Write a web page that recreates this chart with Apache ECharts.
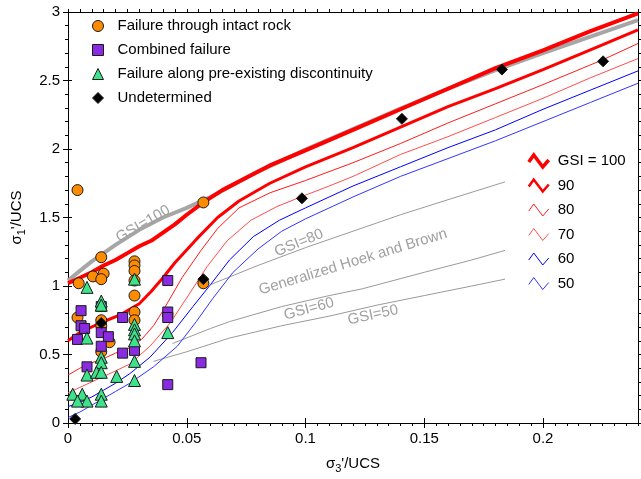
<!DOCTYPE html>
<html lang="en">
<head>
<meta charset="UTF-8">
<title>sigma1'/UCS vs sigma3'/UCS</title>
<script src="https://cdn.jsdelivr.net/npm/echarts@6.0.0/dist/echarts.min.js"></script>
<style>
  html, body { margin: 0; padding: 0; background: #fff; }
  #chart { width: 641px; height: 479px; }
</style>
</head>
<body>
<div id="chart"></div>
<script>
// test points [sigma3'/UCS, sigma1'/UCS]
const intactRock = [
  [0.004, 1.70], [0.004, 0.77], [0.0045, 1.02], [0.0105, 1.07], [0.014, 1.21],
  [0.015, 1.09], [0.014, 1.05], [0.028, 1.18], [0.028, 1.15], [0.028, 1.11],
  [0.028, 1.04], [0.028, 0.93], [0.028, 0.81], [0.028, 0.75], [0.014, 0.75],
  [0.014, 0.71], [0.0175, 0.59], [0.014, 0.52], [0.057, 1.61], [0.057, 1.02]
];
const combined = [
  [0.0055, 0.82], [0.0055, 0.71], [0.007, 0.69], [0.004, 0.61], [0.014, 0.85],
  [0.014, 0.66], [0.017, 0.63], [0.014, 0.56], [0.008, 0.41], [0.023, 0.51],
  [0.023, 0.77], [0.028, 0.53], [0.042, 1.04], [0.042, 0.81], [0.042, 0.77],
  [0.042, 0.28], [0.056, 0.44]
];
const discontinuity = [
  [0.008, 0.99], [0.014, 0.89], [0.014, 0.86], [0.028, 1.05], [0.008, 0.62],
  [0.028, 0.72], [0.028, 0.68], [0.028, 0.65], [0.028, 0.60], [0.014, 0.48],
  [0.014, 0.44], [0.008, 0.35], [0.012, 0.37], [0.014, 0.37], [0.0205, 0.34],
  [0.028, 0.45], [0.028, 0.31], [0.042, 0.66], [0.002, 0.21], [0.006, 0.21],
  [0.008, 0.16], [0.004, 0.16], [0.014, 0.21], [0.014, 0.16]
];
const undetermined = [
  [0.003, 0.03], [0.014, 0.73], [0.057, 1.05], [0.0985, 1.64],
  [0.1406, 2.22], [0.1827, 2.58], [0.2253, 2.64]
];

// numerical envelopes
const gsi100 = [
  [0, 1.02], [0.005, 1.06], [0.01, 1.10], [0.015, 1.15], [0.02, 1.19], [0.025, 1.24],
  [0.03, 1.29], [0.035, 1.33], [0.04, 1.39], [0.045, 1.45], [0.05, 1.52], [0.057, 1.61],
  [0.065, 1.70], [0.075, 1.79], [0.085, 1.88], [0.1, 1.99], [0.12, 2.14], [0.14, 2.29],
  [0.16, 2.44], [0.18, 2.59], [0.2, 2.72], [0.22, 2.86], [0.24, 2.99]
];
const gsi90 = [
  [0, 0.60], [0.005, 0.66], [0.0135, 0.73], [0.022, 0.79], [0.026, 0.83], [0.03, 0.87],
  [0.035, 0.96], [0.04, 1.06], [0.045, 1.17], [0.054, 1.34], [0.063, 1.50], [0.072, 1.62],
  [0.085, 1.75], [0.1, 1.87], [0.12, 2.01], [0.14, 2.16], [0.16, 2.31], [0.18, 2.44],
  [0.2, 2.58], [0.225, 2.76], [0.24, 2.87]
];
const gsi80 = [
  [0, 0.35], [0.005, 0.40], [0.01, 0.44], [0.015, 0.47], [0.02, 0.51], [0.026, 0.55],
  [0.031, 0.61], [0.036, 0.71], [0.04, 0.82], [0.048, 1.06], [0.056, 1.26], [0.063, 1.42],
  [0.072, 1.57], [0.085, 1.68], [0.1, 1.77], [0.12, 1.90], [0.14, 2.04], [0.16, 2.19],
  [0.18, 2.33], [0.2, 2.47], [0.225, 2.65], [0.24, 2.77]
];
const gsi70 = [
  [0, 0.22], [0.005, 0.26], [0.01, 0.30], [0.015, 0.34], [0.02, 0.38], [0.026, 0.43],
  [0.0345, 0.56], [0.043, 0.73], [0.051, 0.94], [0.0585, 1.14], [0.067, 1.33], [0.077, 1.48],
  [0.088, 1.58], [0.098, 1.65], [0.11, 1.73], [0.12, 1.80], [0.14, 1.96], [0.16, 2.09],
  [0.18, 2.23], [0.2, 2.37], [0.22, 2.52], [0.24, 2.66]
];
const gsi60 = [
  [0, 0.12], [0.005, 0.15], [0.01, 0.19], [0.015, 0.24], [0.02, 0.29], [0.026, 0.36],
  [0.0345, 0.48], [0.044, 0.66], [0.0526, 0.85], [0.06, 1.01], [0.068, 1.19], [0.078, 1.36],
  [0.089, 1.48], [0.1, 1.57], [0.12, 1.73], [0.14, 1.87], [0.16, 2.01], [0.18, 2.14],
  [0.2, 2.29], [0.22, 2.43], [0.24, 2.57]
];
const gsi50 = [
  [0, 0.04], [0.005, 0.08], [0.01, 0.13], [0.015, 0.18], [0.02, 0.23], [0.026, 0.29],
  [0.036, 0.41], [0.046, 0.56], [0.054, 0.74], [0.061, 0.91], [0.0695, 1.10], [0.08, 1.27],
  [0.09, 1.40], [0.1, 1.49], [0.12, 1.65], [0.14, 1.80], [0.16, 1.93], [0.18, 2.06],
  [0.2, 2.20], [0.22, 2.34], [0.24, 2.48]
];

// generalized Hoek and Brown
const hb100 = [
  [0, 1.04], [0.005, 1.11], [0.01, 1.18], [0.015, 1.24], [0.02, 1.30], [0.03, 1.41],
  [0.04, 1.50], [0.05, 1.57], [0.06, 1.65], [0.08, 1.835], [0.1, 1.995], [0.12, 2.145],
  [0.14, 2.295], [0.16, 2.44], [0.18, 2.575], [0.2, 2.70], [0.22, 2.82], [0.24, 2.94]
];
const hb80 = [
  [0.06, 1.01], [0.07, 1.08], [0.08, 1.15], [0.1, 1.28], [0.12, 1.40],
  [0.14, 1.52], [0.16, 1.63], [0.184, 1.76]
];
const hb60 = [
  [0.044, 0.58], [0.06, 0.69], [0.068, 0.74], [0.09, 0.85], [0.11, 0.93],
  [0.124, 0.98], [0.15, 1.10], [0.17, 1.19], [0.184, 1.26]
];
const hb50 = [
  [0.036, 0.45], [0.05, 0.52], [0.068, 0.62], [0.09, 0.71], [0.11, 0.78],
  [0.13, 0.86], [0.15, 0.93], [0.17, 1.00], [0.184, 1.05]
];

const pointNames = ['Failure through intact rock', 'Combined failure',
  'Failure along pre-existing discontinuity', 'Undetermined'];
const gsiNames = ['GSI = 100', '90', '80', '70', '60', '50'];
const xRange = [0, 0.24];
const yRange = [0, 3];

const FONT = 'Liberation Sans, Arial, sans-serif';
const zig = 'path://M0,7L5,0L14,12L20,5';

function xAx(pos, interval, opts) {
  return Object.assign({
    type: 'value', position: pos, min: xRange[0], max: xRange[1], interval: interval,
    axisLine: { show: false }, axisLabel: { show: false }, splitLine: { show: false },
    axisTick: { show: false }
  }, opts);
}
function yAx(pos, opts) {
  return Object.assign({
    type: 'value', position: pos, min: yRange[0], max: yRange[1], interval: 0.5,
    axisLine: { show: false }, axisLabel: { show: false }, splitLine: { show: false },
    axisTick: { show: false }
  }, opts);
}
const black = { lineStyle: { color: '#000', width: 1 } };

function line(name, data, color, width) {
  return {
    name: name, type: 'line', data: data, symbol: 'none', smooth: false,
    lineStyle: { color: color, width: width }, itemStyle: { color: color },
    silent: true, z: 2
  };
}
function pts(name, data, symbol, size, color) {
  return {
    name: name, type: 'scatter', data: data, symbol: symbol, symbolSize: size,
    itemStyle: { color: color, borderColor: '#1a1a1a', borderWidth: 1, opacity: 1 },
    silent: true, z: 3
  };
}

const chart = echarts.init(document.getElementById('chart'), null, { renderer: 'canvas' });

const grayLabel = (text, x, y, deg) => ({
  type: 'text', x: x, y: y, rotation: deg * Math.PI / 180, z: 10, silent: true,
  style: { text: text, fill: '#a0a0a0', font: '15px ' + FONT, align: 'center', verticalAlign: 'middle' }
});

chart.setOption({
  animation: false,
  backgroundColor: '#fff',
  textStyle: { fontFamily: FONT },
  grid: { left: 68, right: 3, top: 12, bottom: 56, containLabel: false, outerBoundsMode: 'none' },
  xAxis: [
    xAx('bottom', 0.05, {
      axisLine: Object.assign({ show: true, onZero: false }, black),
      axisTick: Object.assign({ show: true, inside: false, length: 5 }, black),
      axisLabel: { show: true, color: '#000', fontSize: 15, margin: 8, showMaxLabel: false, fontFamily: FONT },
      name: '{a|σ}{s|3}{a|\'/UCS}', nameLocation: 'middle', nameGap: 31,
      nameTextStyle: {
        color: '#000', fontSize: 15, fontFamily: FONT,
        rich: { a: { fontSize: 15, color: '#000' }, s: { fontSize: 11, color: '#000', padding: [9, 0, 0, 0] } }
      }
    }),
    xAx('bottom', 0.05, { axisTick: Object.assign({ show: true, inside: true, length: 4 }, black) }),
    xAx('bottom', 0.005, { axisTick: Object.assign({ show: true, inside: false, length: 3 }, black) }),
    xAx('top', 0.005, {
      axisLine: Object.assign({ show: true, onZero: false }, black),
      axisTick: Object.assign({ show: true, inside: false, length: 3 }, black)
    }),
    xAx('top', 0.05, { axisTick: Object.assign({ show: true, inside: false, length: 5 }, black) })
  ],
  yAxis: [
    yAx('left', {
      axisLine: Object.assign({ show: true, onZero: false }, black),
      axisTick: Object.assign({ show: true, inside: false, length: 5 }, black),
      minorTick: Object.assign({ show: true, splitNumber: 5, length: 3 }, black),
      axisLabel: { show: true, color: '#000', fontSize: 15, margin: 8, fontFamily: FONT },
      name: '{a|σ}{s|1}{a|\'/UCS}', nameLocation: 'middle', nameGap: 41, nameRotate: 90,
      nameTextStyle: {
        color: '#000', fontSize: 15, fontFamily: FONT,
        rich: { a: { fontSize: 15, color: '#000' }, s: { fontSize: 11, color: '#000', padding: [9, 0, 0, 0] } }
      }
    }),
    yAx('left', { axisTick: Object.assign({ show: true, inside: true, length: 4 }, black) }),
    yAx('right', {
      axisLine: Object.assign({ show: true, onZero: false }, black),
      axisTick: Object.assign({ show: true, inside: false, length: 5 }, black),
      minorTick: Object.assign({ show: true, splitNumber: 5, length: 3 }, black)
    })
  ],
  legend: [
    {
      orient: 'vertical', left: 92, top: 18, padding: 0, itemWidth: 11, itemHeight: 11, itemGap: 8,
      selectedMode: false,
      textStyle: { color: '#000', fontSize: 15, lineHeight: 16, fontFamily: FONT, padding: [0, 0, 0, 9] },
      itemStyle: { borderWidth: 1, borderColor: '#1a1a1a' },
      data: pointNames.map(n => ({ name: n, itemStyle: { borderWidth: 1, borderColor: '#1a1a1a' } }))
    },
    {
      orient: 'vertical', left: 527, top: 153, padding: 0, itemWidth: 20, itemHeight: 12, itemGap: 8.5,
      selectedMode: false, symbolKeepAspect: false,
      textStyle: { color: '#000', fontSize: 15, lineHeight: 16, fontFamily: FONT, padding: [0, 0, 0, 4] },
      data: [
        { name: gsiNames[0], icon: zig, itemStyle: { color: 'transparent', borderColor: '#ff0000', borderWidth: 3.5 } },
        { name: gsiNames[1], icon: zig, itemStyle: { color: 'transparent', borderColor: '#ff0000', borderWidth: 2.5 } },
        { name: gsiNames[2], icon: zig, itemStyle: { color: 'transparent', borderColor: '#ff1a1a', borderWidth: 1 } },
        { name: gsiNames[3], icon: zig, itemStyle: { color: 'transparent', borderColor: '#ff4d4d', borderWidth: 1 } },
        { name: gsiNames[4], icon: zig, itemStyle: { color: 'transparent', borderColor: '#0000ff', borderWidth: 1 } },
        { name: gsiNames[5], icon: zig, itemStyle: { color: 'transparent', borderColor: '#3333ff', borderWidth: 1 } }
      ]
    }
  ],
  graphic: [
    grayLabel('GSI=100', 143, 224, 30),
    grayLabel('GSI=80', 299, 243, 22),
    grayLabel('Generalized Hoek and Brown', 353, 262, 17),
    grayLabel('GSI=60', 309, 309, 15),
    grayLabel('GSI=50', 373, 315, 12)
  ],
  series: [
    line('HB100', hb100, '#a6a6a6', 4),
    line('HB80', hb80, '#9a9a9a', 1),
    line('HB60', hb60, '#9a9a9a', 1),
    line('HB50', hb50, '#9a9a9a', 1),
    line(gsiNames[5], gsi50, '#3333ff', 1),
    line(gsiNames[4], gsi60, '#0000ff', 1),
    line(gsiNames[3], gsi70, '#ff4d4d', 1),
    line(gsiNames[2], gsi80, '#ff1a1a', 1),
    line(gsiNames[1], gsi90, '#ff0000', 3),
    line(gsiNames[0], gsi100, '#ff0000', 4),
    pts(pointNames[0], intactRock, 'circle', 11, '#ff8c00'),
    pts(pointNames[1], combined, 'rect', 10, '#8a2be2'),
    pts(pointNames[2], discontinuity, 'triangle', 12, '#3de38a'),
    pts(pointNames[3], undetermined, 'diamond', 11, '#000000')
  ]
});
</script>
</body>
</html>
